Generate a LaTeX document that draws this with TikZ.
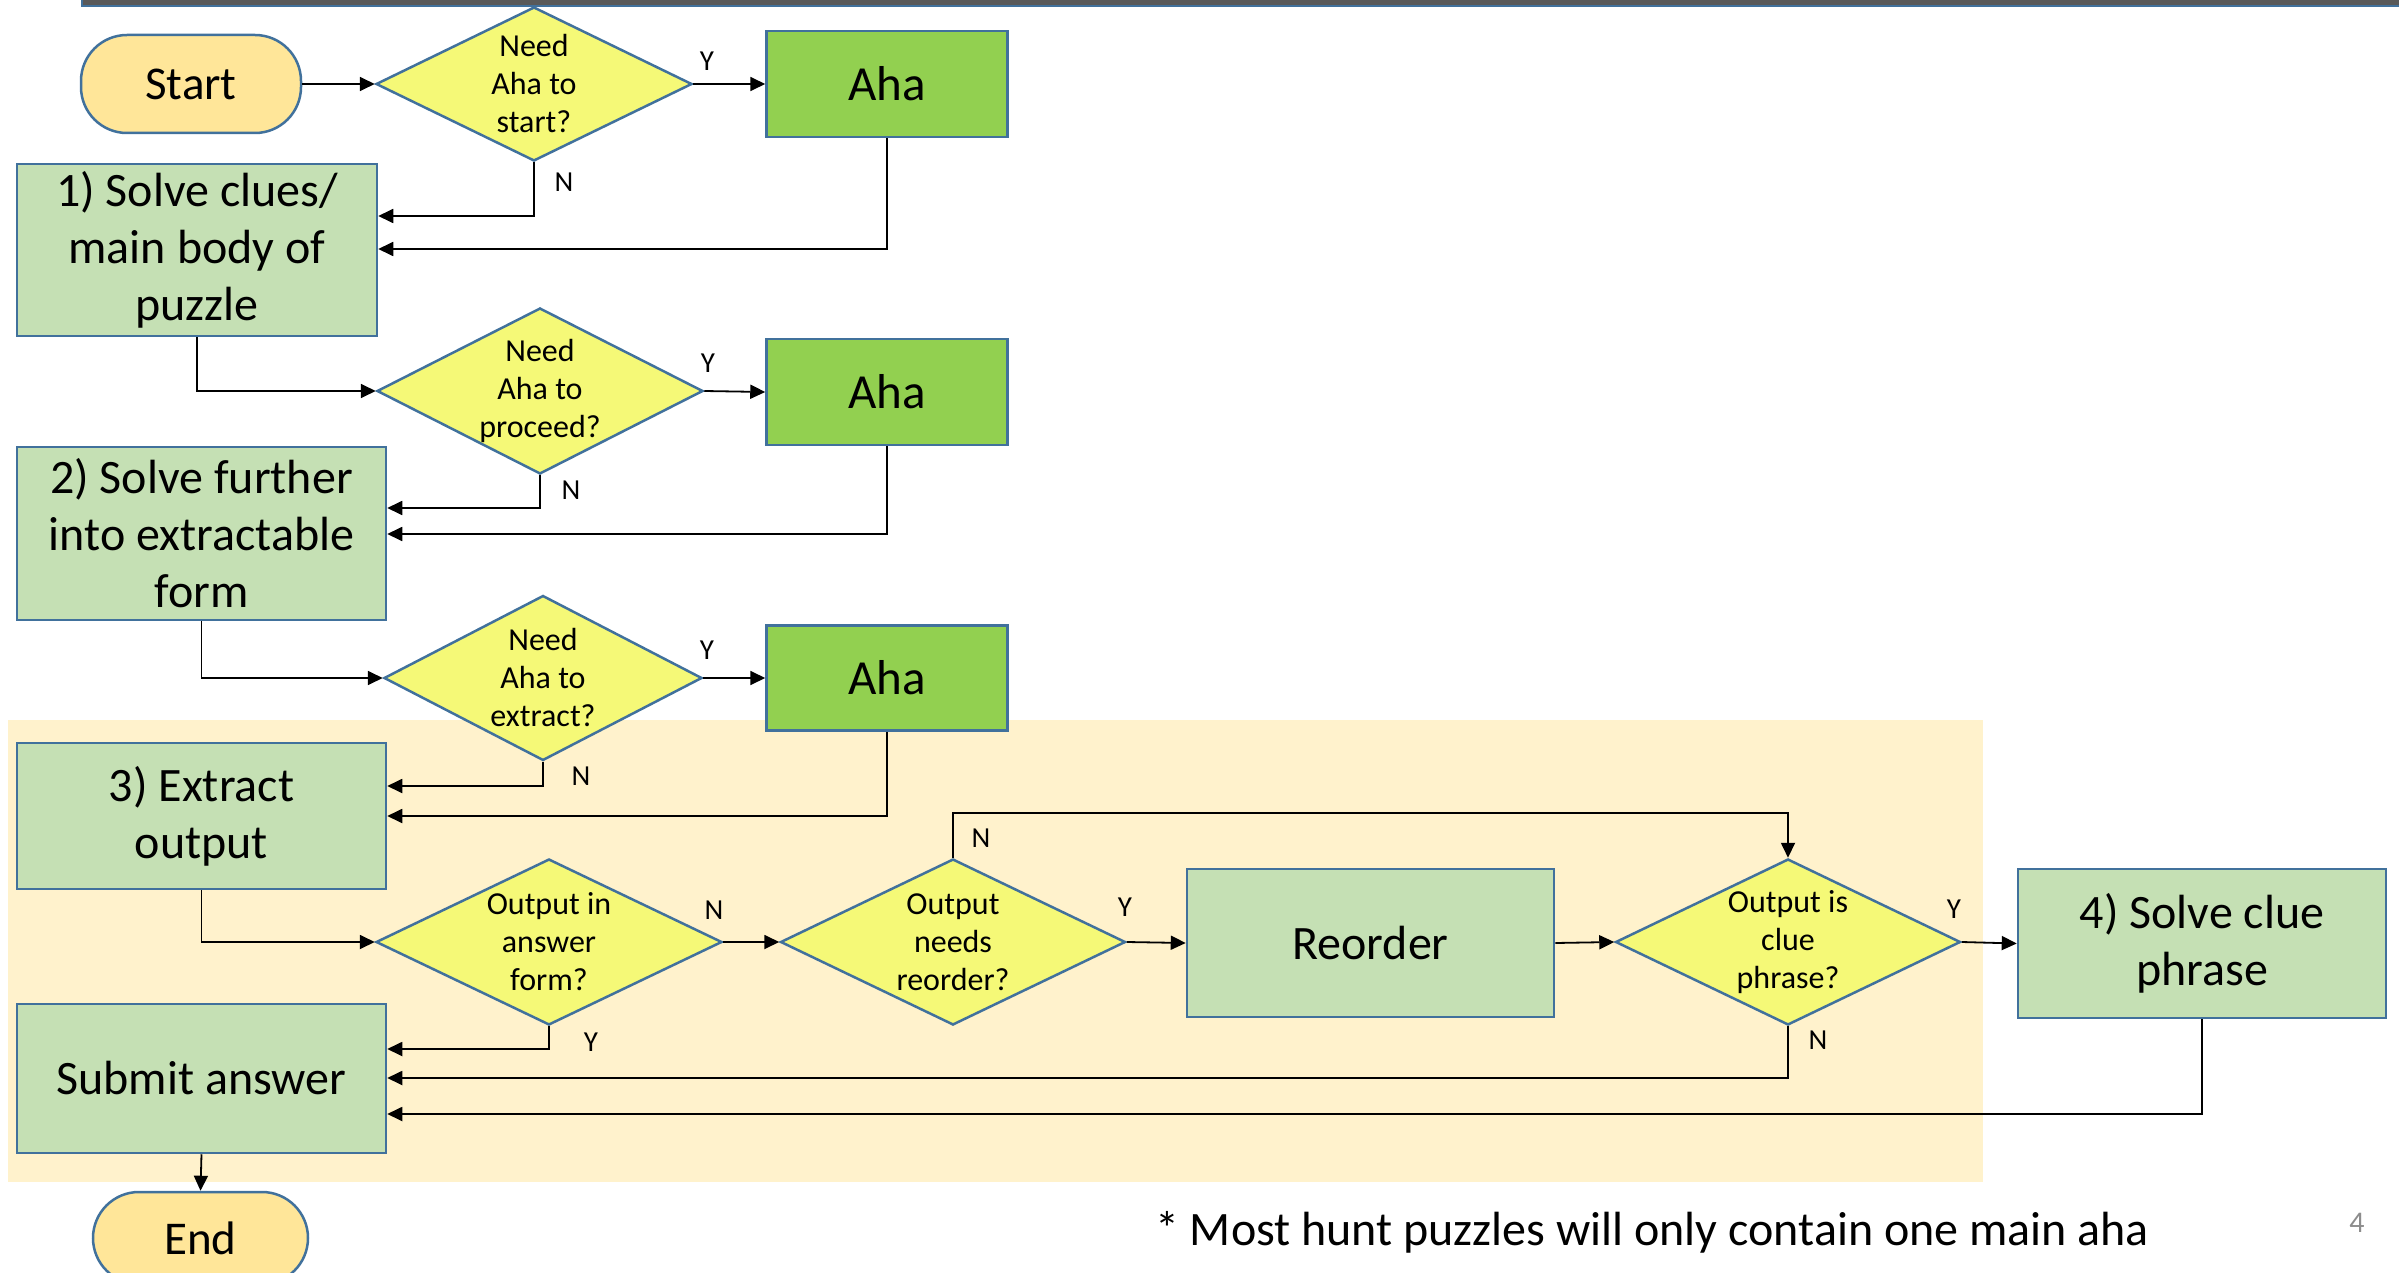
\documentclass[tikz,border=0pt]{standalone}
\usepackage{fontspec}
\setmainfont{Carlito}
\usetikzlibrary{shapes.geometric,arrows.meta}
\definecolor{bord}{HTML}{41719C}
\definecolor{termfill}{HTML}{FFE699}
\definecolor{decfill}{HTML}{F5F977}
\definecolor{ahafill}{HTML}{92D050}
\definecolor{boxfill}{HTML}{C5E0B4}
\definecolor{bgfill}{HTML}{FFF2CC}
\definecolor{barfill}{HTML}{595959}
\tikzset{
  term/.style={draw=bord, fill=termfill, line width=2.5pt, rounded corners=46pt, inner sep=0pt,
    font=\fontsize{47}{56}\selectfont},
  dec/.style={draw=bord, fill=decfill, line width=2.5pt, diamond, inner sep=0pt},
  dtext/.style={inner sep=0pt, align=center, font=\fontsize{32}{38}\selectfont},
  aha/.style={draw=bord, fill=ahafill, line width=2.5pt, rectangle, inner sep=0pt,
    font=\fontsize{49}{58}\selectfont},
  proc/.style={draw=bord, fill=boxfill, line width=2.5pt, rectangle, inner sep=0pt, align=center,
    font=\fontsize{48}{57}\selectfont},
  arr/.style={draw=black, line width=1.8pt, -{Triangle[length=15pt,width=14pt]}},
  lbl/.style={font=\fontsize{29}{34}\selectfont, inner sep=0pt},
}
\begin{document}
\begin{tikzpicture}[x=1pt,y=-1pt]
\useasboundingbox (0,0) rectangle (2399,1273);
\clip (0,0) rectangle (2399,1273);
% top bar
\fill[barfill] (82,-5) rectangle (2410,6);
\draw[bord, line width=1.5pt] (82,-5) -- (82,6) -- (2410,6);
% background
\fill[bgfill] (8,720) rectangle (1983,1182);

% nodes
\node[term, minimum width=220pt, minimum height=98pt] (start) at (191,84) {Start};
\node[dec, minimum width=316pt, minimum height=154pt] (d1) at (534,84) {};
\node[dtext] (d1t) at (d1) {Need\\Aha to\\start?};
\node[aha, minimum width=241pt, minimum height=106pt] (a1) at (887,84) {Aha};
\node[proc, minimum width=360pt, minimum height=172pt] (b1) at (197,250) {1) Solve clues/\\main body of\\puzzle};

\node[dec, minimum width=326pt, minimum height=166pt] (d2) at (540,391) {};
\node[dtext] (d2t) at (d2) {Need\\Aha to\\proceed?};
\node[aha, minimum width=241pt, minimum height=106pt] (a2) at (887,392) {Aha};
\node[proc, minimum width=369pt, minimum height=173pt] (b2) at (201.5,533.5) {2) Solve further\\into extractable\\form};

\node[dec, minimum width=318pt, minimum height=165pt] (d3) at (543,678) {};
\node[dtext] (d3t) at (d3) {Need\\Aha to\\extract?};
\node[aha, minimum width=241pt, minimum height=105pt] (a3) at (887,678) {Aha};
\node[proc, minimum width=369pt, minimum height=146pt] (b3) at (201.5,816) {3) Extract\\output};

\node[dec, minimum width=346pt, minimum height=166pt] (d4) at (549,942) {};
\node[dtext] (d4t) at (d4) {Output in\\answer\\form?};
\node[dec, minimum width=345pt, minimum height=166pt] (d5) at (953,942) {};
\node[dtext] (d5t) at (d5) {Output\\needs\\reorder?};
\node[proc, minimum width=367pt, minimum height=148pt] (re) at (1370.5,943) {Reorder};
\node[dec, minimum width=345pt, minimum height=166pt] (d6) at (1788,942) {};
\node[dtext] (d6t) at (d6) {Output is\\clue\\phrase?};
\node[proc, minimum width=368pt, minimum height=149pt] (b4) at (2202,943.5) {4) Solve clue\\phrase};

\node[proc, minimum width=369pt, minimum height=149pt] (sub) at (201.5,1078.5) {Submit answer};
\node[term, minimum width=215pt, minimum height=92pt] (end) at (200.5,1238) {End};

% connectors
\draw[arr] (start.east) -- (d1.west);
\draw[arr] (d1.east) -- (a1.west);
\draw[arr] (d1.south) |- (b1.east |- 0,216);
\draw[arr] (a1.south) |- (b1.east |- 0,249);
\draw[arr] (b1.south) |- (d2.west);

\draw[arr] (d2.east) -- (a2.west);
\draw[arr] (d2.south) |- (b2.east |- 0,508);
\draw[arr] (a2.south) |- (b2.east |- 0,534);
\draw[arr] (b2.south) |- (d3.west);

\draw[arr] (d3.east) -- (a3.west);
\draw[arr] (d3.south) |- (b3.east |- 0,786);
\draw[arr] (a3.south) |- (b3.east |- 0,816);
\draw[arr] (b3.south) |- (d4.west);

\draw[arr] (d4.east) -- (d5.west);
\draw[arr] (d4.south) |- (sub.east |- 0,1049);
\draw[arr] (d5.east) -- (re.west);
\draw[arr] (d5.north) -- (d5.north |- 0,813) -| (d6.north);
\draw[arr] (re.east) -- (d6.west);
\draw[arr] (d6.east) -- (b4.west);
\draw[arr] (d6.south) |- (sub.east |- 0,1078);
\draw[arr] (b4.south) |- (sub.east |- 0,1114);
\draw[arr] (sub.south) -- (end.north);

% labels
\node[lbl] (l1y) at (707,61) {Y};
\node[lbl] (l1n) at (564,182) {N};
\node[lbl] (l2y) at (708,363) {Y};
\node[lbl] (l2n) at (571,490) {N};
\node[lbl] (l3y) at (707,650) {Y};
\node[lbl] (l3n) at (581,776) {N};
\node[lbl] (l4n) at (714,910) {N};
\node[lbl] (l4y) at (591,1042) {Y};
\node[lbl] (l5n) at (981,838) {N};
\node[lbl] (l5y) at (1125,907) {Y};
\node[lbl] (l6y) at (1954,909) {Y};
\node[lbl] (l6n) at (1818,1040) {N};

% footnote
\node[anchor=base west, inner sep=0pt, font=\fontsize{48}{56}\selectfont] (foot) at (1155,1245) {* Most hunt puzzles will only contain one main aha};
\node[anchor=base, inner sep=0pt, font=\fontsize{30}{36}\selectfont, text=black!45] (pg) at (2357,1232) {4};
\end{tikzpicture}
\end{document}
